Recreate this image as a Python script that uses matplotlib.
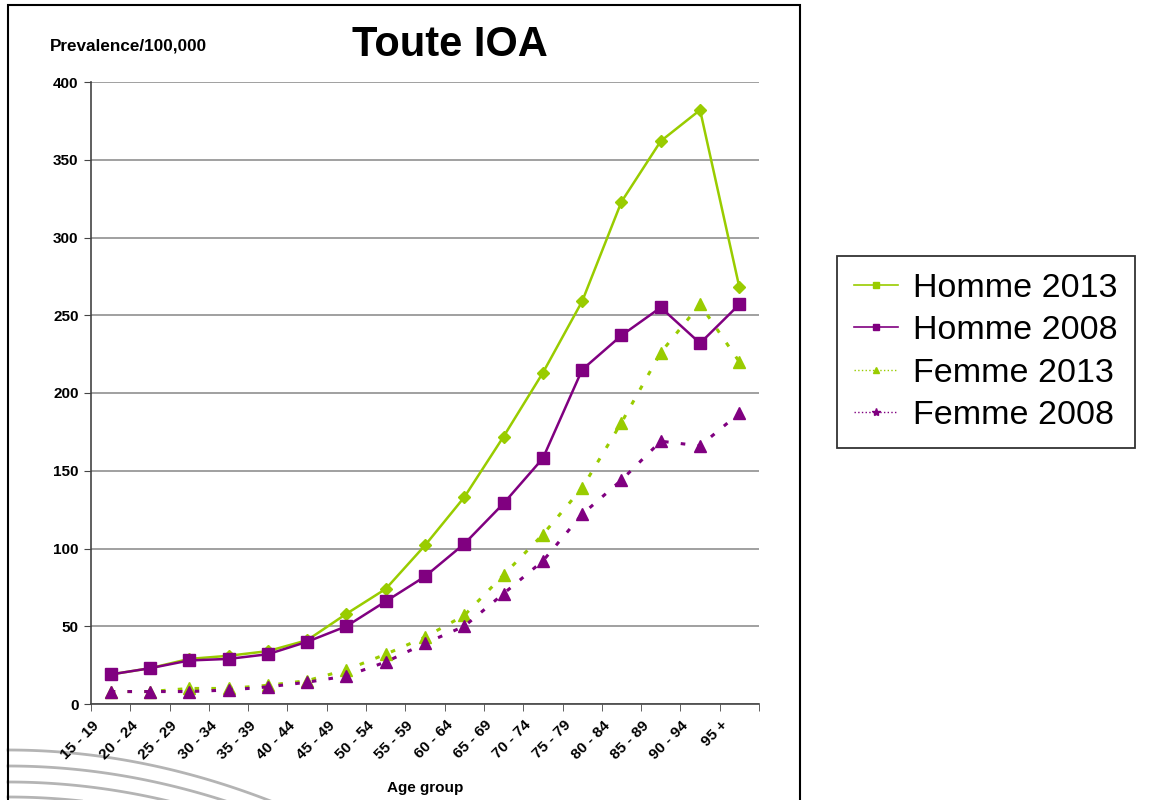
import matplotlib
matplotlib.use("Agg")
import matplotlib.pyplot as plt
from matplotlib.lines import Line2D
from matplotlib.patches import Rectangle
import matplotlib.transforms as mtransforms
import numpy as np

plt.rcParams['font.family'] = ['Liberation Sans', 'DejaVu Sans']

age_groups = ["15 - 19", "20 - 24", "25 - 29", "30 - 34", "35 - 39", "40 - 44", "45 - 49",
              "50 - 54", "55 - 59", "60 - 64", "65 - 69", "70 - 74", "75 - 79", "80 - 84",
              "85 - 89", "90 - 94", "95 +"]
homme_2013 = [19, 23, 29, 31, 34, 41, 58, 74, 102, 133, 172, 213, 259, 323, 362, 382, 268]
homme_2008 = [19, 23, 28, 29, 32, 40, 50, 66, 82, 103, 129, 158, 215, 237, 255, 232, 257]
femme_2013 = [8, 8, 10, 10, 12, 15, 22, 32, 43, 57, 83, 109, 139, 181, 226, 257, 220]
femme_2008 = [8, 8, 8, 9, 11, 14, 18, 27, 39, 50, 71, 92, 122, 144, 169, 166, 187]
yticks = [0, 50, 100, 150, 200, 250, 300, 350, 400]

green = "#99cc00"
purple = "#800080"

W, H = 1149, 800
fig = plt.figure(figsize=(W / 100, H / 100), dpi=100)

# decorative background curves (bottom-left), in pixel coords (top-origin)
xs = np.linspace(8, 300, 100)
for y0 in [750, 766, 782, 797]:
    ys = y0 + 0.00074 * (xs - 8) ** 2
    fig.add_artist(Line2D(xs / W, 1 - ys / H, transform=fig.transFigure,
                          color="#b4b4b4", lw=2.0, zorder=0))

ax = fig.add_axes([91 / W, 1 - 704 / H, (759 - 91) / W, (704 - 82) / H])
ax.patch.set_alpha(0)
x = np.arange(len(age_groups))

ax.plot(x, femme_2013, linestyle=(0, (1.5, 4)), color=green, lw=2.2, marker="^", ms=9, zorder=3)
ax.plot(x, femme_2008, linestyle=(0, (1.5, 4)), color=purple, lw=2.2, marker="^", ms=9, zorder=3)
ax.plot(x, homme_2013, linestyle="-", color=green, lw=1.8, marker="D", ms=6.5, zorder=4)
ax.plot(x, homme_2008, linestyle="-", color=purple, lw=1.8, marker="s", ms=8.5, zorder=4)

ax.set_xlim(-0.5, len(age_groups) - 0.5)
ax.set_ylim(0, 400)
ax.set_yticks(yticks)
ax.set_yticklabels([str(v) for v in yticks], fontsize=11, fontweight="bold")
ax.yaxis.grid(True, color="#999999", lw=1.3)
ax.set_axisbelow(True)
ax.set_xticks(x)
ax.set_xticklabels([])
ax.tick_params(axis="x", length=0)
ax.set_xticks(np.arange(-0.5, len(age_groups)), minor=True)
ax.tick_params(axis="x", which="minor", length=5, direction="out", color="#444444")
ax.tick_params(axis="y", length=5, direction="out", color="#444444", pad=4)
for s in ["top", "right"]:
    ax.spines[s].set_visible(False)
for s in ["left", "bottom"]:
    ax.spines[s].set_color("#444444")
    ax.spines[s].set_linewidth(1.2)

# rotated category labels, placed via the x-axis transform with a pixel offset
lab_tr = ax.get_xaxis_transform() + mtransforms.ScaledTranslation(-14 / 100, -19 / 100, fig.dpi_scale_trans)
for xi, lab in zip(x, age_groups):
    ax.text(xi, 0, lab, transform=lab_tr, rotation=45, rotation_mode="anchor",
            ha="right", va="center", fontsize=11, fontweight="bold", clip_on=False)

fig.text(450 / W, 1 - 45 / H, "Toute IOA", fontsize=30, fontweight="bold", ha="center", va="center")
fig.text(50 / W, 1 - 46 / H, "Prevalence/100,000", fontsize=12.3, fontweight="bold", ha="left", va="center")
fig.text(425 / W, 1 - 788 / H, "Age group", fontsize=11, fontweight="bold", ha="center", va="center")

# outer frame of chart
fig.patches.append(Rectangle((8, -10), 792, 805, transform=None, fill=False, ec="black", lw=1.5))

handles = [
    Line2D([], [], color=green, lw=1.2, marker="s", ms=4),
    Line2D([], [], color=purple, lw=1.2, marker="s", ms=4),
    Line2D([], [], color=green, lw=1.0, ls=":", marker="^", ms=5),
    Line2D([], [], color=purple, lw=1.0, ls=":", marker="*", ms=6),
]
labels = ["Homme 2013", "Homme 2008", "Femme 2013", "Femme 2008"]
leg = fig.legend(handles, labels, loc="center", bbox_to_anchor=(986 / W, 1 - 352 / H),
                 fontsize=24.5, frameon=True, fancybox=False, edgecolor="black",
                 handlelength=1.3, handletextpad=0.45, labelspacing=0.33, borderpad=0.5)
leg.get_frame().set_linewidth(1.3)

fig.savefig("out.png", dpi=100)
